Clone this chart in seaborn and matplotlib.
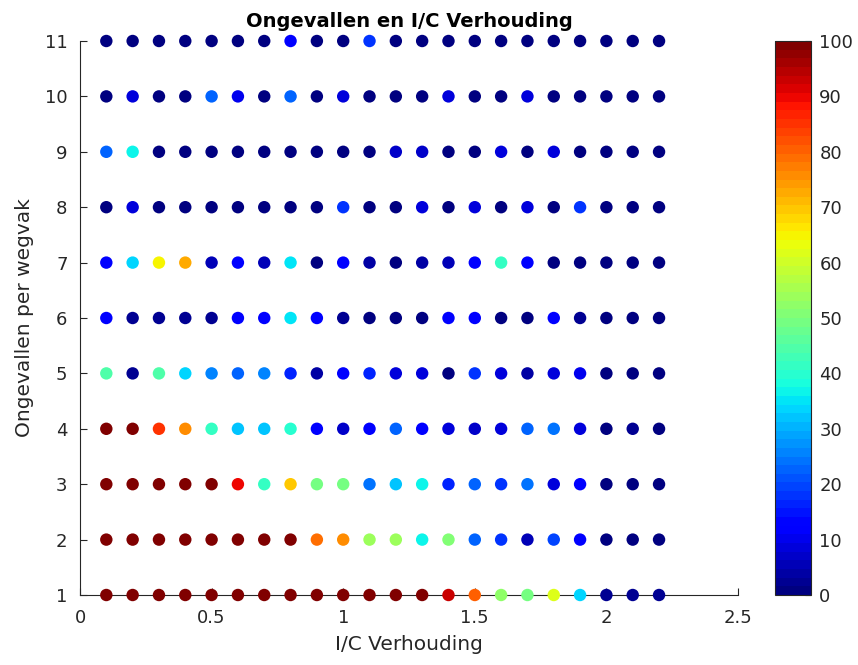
import numpy as np
import pandas as pd
import matplotlib
matplotlib.use("Agg")
import matplotlib.pyplot as plt
import seaborn as sns

ic_ratio = [round(0.1 * i, 1) for i in range(1, 23)]
accidents = list(range(1, 12))

share_1 = [100]*13 + [93, 80, 53, 49, 61, 34, 2, 3, 3]
share_2 = [100]*8 + [79, 76, 54, 54, 36, 51, 22, 18, 6, 20, 11, 1, 1, 1]
share_3 = [100, 100, 100, 100, 100, 90, 41, 69, 49, 49, 24, 32, 36, 17, 23, 18, 24, 8, 11, 1, 1, 1]
share_4 = [100, 100, 85, 76, 41, 32, 32, 40, 11, 7, 11, 22, 11, 9, 7, 8, 22, 24, 8, 1, 3, 1]
share_5 = [45, 2, 45, 34, 26, 22, 26, 17, 4, 11, 16, 9, 9, 1, 18, 9, 4, 9, 10, 1, 1, 1]
share_6 = [11, 3, 3, 3, 3, 11, 11, 35, 11, 3, 1, 1, 1, 11, 11, 1, 1, 12, 3, 1, 1, 1]
share_7 = [11, 34, 65, 73, 5, 11, 6, 35, 1, 11, 4, 1, 4, 5, 11, 41, 11, 1, 1, 1, 1, 1]
share_8 = [1, 8, 1, 1, 1, 1, 1, 1, 1, 18, 1, 1, 8, 1, 8, 1, 8, 1, 18, 1, 1, 1]
share_9 = [22, 36, 1, 1, 1, 1, 1, 1, 1, 1, 1, 7, 7, 1, 1, 8, 1, 8, 1, 1, 1, 1]
share_10 = [1, 9, 1, 1, 22, 10, 1, 22, 1, 9, 1, 1, 1, 9, 1, 1, 9, 1, 1, 1, 1, 1]
share_11 = [1, 1, 1, 1, 1, 1, 1, 11, 1, 1, 18, 1, 1, 1, 1, 1, 1, 1, 1, 1, 1, 1]

shares = [share_1, share_2, share_3, share_4, share_5, share_6,
          share_7, share_8, share_9, share_10, share_11]

rows = []
for acc, vals in zip(accidents, shares):
    for x, v in zip(ic_ratio, vals):
        rows.append({"ic": x, "acc": acc, "val": v})
df = pd.DataFrame(rows)

sns.set_style("white")
plt.rcParams['font.family'] = ['DejaVu Sans']

cmap = plt.get_cmap('jet', 64)
norm = matplotlib.colors.Normalize(0, 100)

fig = plt.figure(figsize=(8.58, 6.65), dpi=100)
ax = fig.add_axes([80/858, 70/665, 658/858, 554/665])
sns.scatterplot(data=df, x="ic", y="acc", hue="val", palette=cmap, hue_norm=(0, 100),
                legend=False, s=80, edgecolor="none", linewidth=0, ax=ax, clip_on=False, zorder=3)

ax.set_xlim(0, 2.5)
ax.set_ylim(1, 11)
ax.set_xticks([0, 0.5, 1, 1.5, 2, 2.5])
ax.set_xticklabels(["0", "0.5", "1", "1.5", "2", "2.5"])
ax.set_yticks(accidents)
tc = '#262626'
ax.tick_params(direction='in', length=5, width=0.8, colors=tc, labelsize=13,
               bottom=True, left=True)
ax.tick_params(axis='x', pad=10)
ax.tick_params(axis='y', pad=9)
for s in ['top', 'right']:
    ax.spines[s].set_visible(False)
for s in ['left', 'bottom']:
    ax.spines[s].set_color('#262626')
    ax.spines[s].set_linewidth(0.8)
ax.set_xlabel("I/C Verhouding", fontsize=14.5, color=tc, labelpad=6)
ax.set_ylabel("Ongevallen per wegvak", fontsize=14.5, color=tc, labelpad=8)
ax.set_title("Ongevallen en I/C Verhouding", fontsize=14, fontweight='bold', color='black', pad=10)

cax = fig.add_axes([775/858, 70/665, 36/858, 554/665])
sm = matplotlib.cm.ScalarMappable(norm=norm, cmap=cmap)
cb = fig.colorbar(sm, cax=cax, ticks=list(range(0, 101, 10)))
cb.outline.set_edgecolor('#262626')
cb.outline.set_linewidth(0.8)
cax.tick_params(direction='in', length=4, width=0.8, colors=tc, labelsize=13, pad=6, right=True)

fig.savefig("out.png", dpi=100)
